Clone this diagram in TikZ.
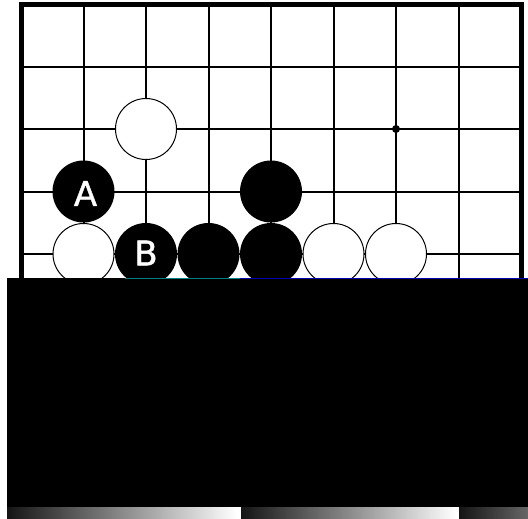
\documentclass[tikz,border=0pt]{standalone}
\usepackage{fontspec}
\newfontfamily\lab[FakeBold=1.2]{DejaVu Sans}
\begin{document}
\begin{tikzpicture}[x=1pt,y=-1pt,
  gridline/.style={line width=2pt},
  frameline/.style={line width=5pt,line join=miter},
  wstone/.style={circle,draw=black,line width=1pt,fill=white,minimum size=61pt,inner sep=0pt},
  bstone/.style={circle,fill=black,minimum size=62pt,inner sep=0pt},
  stonelabel/.style={text=white,inner sep=0pt,font=\lab\fontsize{34}{34}\selectfont},
  hoshi/.style={circle,fill=black,minimum size=8pt,inner sep=0pt}]
\useasboundingbox (0,0) rectangle (528,519);
\fill[white] (0,0) rectangle (528,519);
% grid
\foreach \i in {1,...,7} \draw[gridline] ({21+62.5*\i},5) -- ({21+62.5*\i},280);
\foreach \y in {67,129,191.5,254} \draw[gridline] (21,\y) -- (521,\y);
\draw[frameline] (21,280) -- (21,4.5) -- (521.5,4.5) -- (521.5,280);
% star point
\node[hoshi] (h) at (396,129) {};
% stones
\node[wstone] (w1) at (146,129) {};
\node[bstone] (a) at (83.5,191.5) {};
\node[stonelabel] (la) at (85.5,193.5) {A};
\node[bstone] (b2) at (271,191.5) {};
\node[wstone] (w2) at (83.5,254) {};
\node[bstone] (b) at (146,254) {};
\node[stonelabel] (lb) at (146,253) {B};
\node[bstone] (b3) at (208.5,254) {};
\node[bstone] (b4) at (271,254) {};
\node[wstone] (w3) at (333.5,254) {};
\node[wstone] (w4) at (396,254) {};
% black band
\fill[black] (7,278) rectangle (528,507);
\draw[teal, line width=0.8pt] (125,278.2) -- (240,278.2);
\draw[blue!70!black, line width=0.8pt] (240,278.2) -- (528,278.2);
% gradient strip
\shade[left color=black!92, right color=white] (7,507) rectangle (237,519);
\shade[left color=black!92, right color=white] (241,507) rectangle (456,519);
\shade[left color=black!92, right color=black!60] (459,507) rectangle (528,519);
\end{tikzpicture}
\end{document}
